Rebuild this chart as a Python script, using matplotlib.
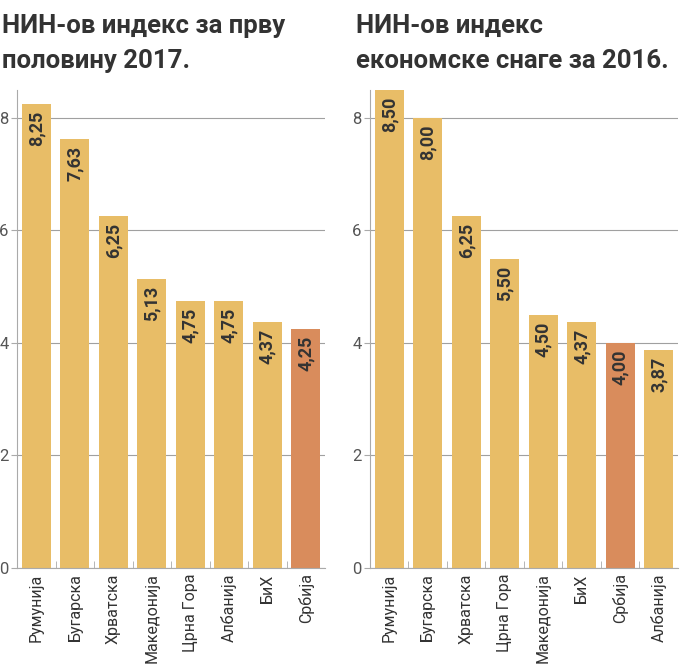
import matplotlib.pyplot as plt

# Data
countries_2017 = ["Румунија", "Бугарска", "Хрватска", "Македонија",
                  "Црна Гора", "Албанија", "БиХ", "Србија"]
values_2017 = [8.25, 7.63, 6.25, 5.13, 4.75, 4.75, 4.37, 4.25]
labels_2017 = ["8,25", "7,63", "6,25", "5,13", "4,75", "4,75", "4,37", "4,25"]

countries_2016 = ["Румунија", "Бугарска", "Хрватска", "Црна Гора",
                  "Македонија", "БиХ", "Србија", "Албанија"]
values_2016 = [8.50, 8.00, 6.25, 5.50, 4.50, 4.37, 4.00, 3.87]
labels_2016 = ["8,50", "8,00", "6,25", "5,50", "4,50", "4,37", "4,00", "3,87"]

titles_2017 = ["НИН-ов индекс за прву", "половину 2017."]
titles_2016 = ["НИН-ов индекс", "економске снаге за 2016."]

YELLOW = "#E8BD67"
ORANGE = "#D98C5C"
DARK = "#333333"
GRID = "#A0A0A0"
FONT = "Roboto"

fig = plt.figure(figsize=(6.8, 6.65), dpi=100)
fig.patch.set_facecolor("white")

panels = [
    (0.025, countries_2017, values_2017, labels_2017, titles_2017, 0.003),
    (0.544, countries_2016, values_2016, labels_2016, titles_2016, 0.523),
]

for left, cats, vals, labs, title, tx in panels:
    ax = fig.add_axes([left, 0.146, 0.453, 0.719])
    xs = list(range(len(cats)))
    colors = [ORANGE if c == "Србија" else YELLOW for c in cats]
    ax.bar(xs, vals, width=0.75, color=colors, zorder=2)
    ax.set_xlim(-0.5, len(cats) - 0.5)
    ax.set_ylim(0, 8.5)
    ax.set_yticks([0, 2, 4, 6, 8])
    ax.yaxis.grid(True, color=GRID, lw=0.8, zorder=1)
    ax.set_axisbelow(True)
    for s in ["top", "right"]:
        ax.spines[s].set_visible(False)
    ax.spines["left"].set_color("#AAAAAA")
    ax.spines["bottom"].set_color("#AAAAAA")
    ax.tick_params(axis="y", length=4, color="#AAAAAA", labelsize=12,
                   labelcolor="#555555", pad=2)
    ax.set_xticks(xs)
    ax.set_xticklabels(cats, rotation=90, fontsize=11.5, color=DARK,
                       family=FONT)
    ax.tick_params(axis="x", length=0, pad=4)
    ax.set_xticks([x + 0.5 for x in xs[:-1]], minor=True)
    ax.tick_params(axis="x", which="minor", direction="in", length=5,
                   color="#AAAAAA")
    for lab in ax.get_yticklabels():
        lab.set_family(FONT)
    for x, v, t in zip(xs, vals, labs):
        ax.text(x, v - 0.12, t, rotation=90, ha="center", va="top",
                fontsize=13, fontweight="bold", color=DARK, family=FONT,
                zorder=3)
    # two-line title
    fig.text(tx, 0.950, title[0], ha="left", va="baseline", fontsize=18.5,
             fontweight="bold", color=DARK, family=FONT)
    fig.text(tx, 0.898, title[1], ha="left", va="baseline", fontsize=18.5,
             fontweight="bold", color=DARK, family=FONT)

fig.savefig("out.png", dpi=100, facecolor="white")
